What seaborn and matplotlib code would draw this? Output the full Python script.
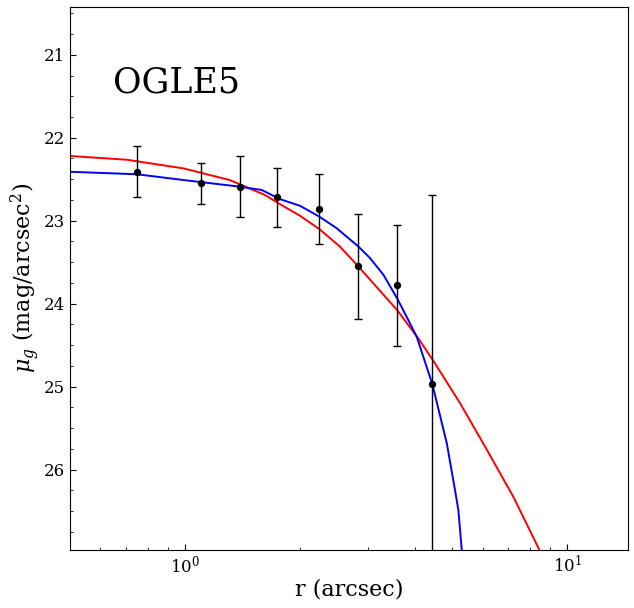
import numpy as np
import matplotlib
matplotlib.use("Agg")
import matplotlib.pyplot as plt
import seaborn as sns
from matplotlib.ticker import MultipleLocator

# ============================================
# DATA
# ============================================
r_obs = [0.747, 1.098, 1.391, 1.738, 2.243, 2.837, 3.589, 4.432]
mu_obs = [22.41, 22.55, 22.59, 22.72, 22.86, 23.55, 23.78, 24.97]
mu_err = [0.31, 0.25, 0.37, 0.35, 0.42, 0.63, 0.73, 2.28]

# red model curve
r_red = [0.5, 0.704, 0.992, 1.309, 1.617, 1.770, 1.997, 2.243, 2.538, 2.837,
         3.170, 3.589, 4.074, 4.432, 5.238, 6.152, 7.222, 8.448, 9.0]
mu_red = [22.22, 22.265, 22.37, 22.51, 22.69, 22.80, 22.94, 23.10, 23.31, 23.55,
          23.80, 24.08, 24.42, 24.67, 25.20, 25.76, 26.33, 26.97, 27.3]

# blue model curve
r_blue = [0.5, 0.748, 0.992, 1.391, 1.588, 1.770, 1.997, 2.243, 2.490, 2.837,
          3.044, 3.299, 3.589, 3.798, 4.035, 4.432, 4.834, 5.082, 5.185, 5.292, 5.35]
mu_blue = [22.41, 22.44, 22.51, 22.59, 22.63, 22.74, 22.82, 22.95, 23.09, 23.31,
           23.45, 23.65, 23.94, 24.16, 24.40, 24.97, 25.68, 26.25, 26.49, 26.97, 27.3]

# ============================================
# STYLE
# ============================================
sns.set_style("ticks")
plt.rcParams['font.family'] = ['DejaVu Serif']
plt.rcParams['mathtext.fontset'] = 'dejavuserif'
plt.rcParams['text.color'] = 'black'
plt.rcParams['axes.labelcolor'] = 'black'
plt.rcParams['xtick.color'] = 'black'
plt.rcParams['ytick.color'] = 'black'
plt.rcParams['axes.edgecolor'] = 'black'

fig = plt.figure(figsize=(6.34, 6.08), dpi=100)
ax = fig.add_axes([70 / 634, 58 / 608, 558 / 634, 543.3 / 608])

# ============================================
# PLOT
# ============================================
sns.lineplot(x=r_red, y=mu_red, color='red', lw=1.4, sort=False,
             estimator=None, ax=ax)
sns.lineplot(x=r_blue, y=mu_blue, color='blue', lw=1.4, sort=False,
             estimator=None, ax=ax)
ax.errorbar(r_obs, mu_obs, yerr=mu_err, fmt='none', ecolor='black',
            elinewidth=1, capsize=3, capthick=1)
sns.scatterplot(x=r_obs, y=mu_obs, color='black', s=28, edgecolor='black',
                linewidth=0, ax=ax, zorder=5)

ax.set_xscale('log')
ax.set_xlim(0.5, 14.4)
ax.set_ylim(26.97, 20.42)
ax.yaxis.set_major_locator(MultipleLocator(1))
ax.yaxis.set_minor_locator(MultipleLocator(0.25))
ax.tick_params(which='both', direction='in', labelsize=12)
ax.tick_params(which='major', length=4.5)
ax.tick_params(which='minor', length=2.5)

ax.set_xlabel('r (arcsec)', fontsize=16, labelpad=1)
ax.set_ylabel(r'$\mu_g$ (mag/arcsec$^2$)', fontsize=16, labelpad=1)
ax.text(0.077, 0.842, 'OGLE5', transform=ax.transAxes, fontsize=25,
        va='baseline', ha='left')

plt.savefig('out.png', dpi=100)
